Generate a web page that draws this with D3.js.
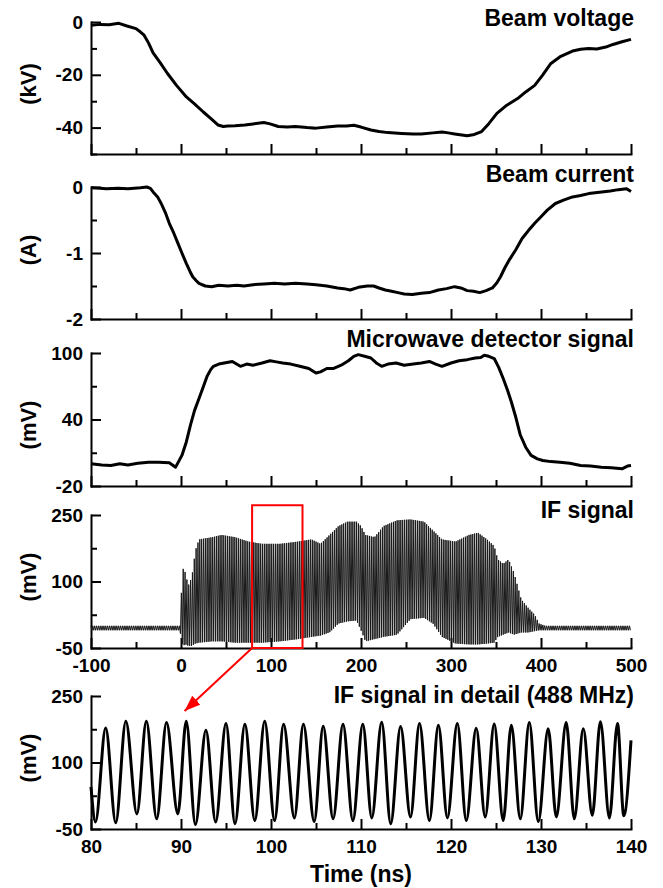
<!DOCTYPE html>
<html>
<head>
<meta charset="utf-8">
<script src="https://cdn.jsdelivr.net/npm/d3@7"></script>
<style>
body { margin: 0; background: #fff; }
text { font-family: "Liberation Sans", Arial, sans-serif; font-weight: bold; fill: #000; }
.axis .tick text { font-size: 19px; }
.axis path, .axis line { stroke: #000; stroke-width: 2; }
.axis path { stroke-linecap: square; }
</style>
</head>
<body>
<svg id="chart" width="663" height="888"></svg>
<script>
// ---- data ----
const voltT = [-100, -90, -80, -69, -60, -50, -45, -41, -36, -31, -23, -15, -5, 6, 15, 24.5, 33, 41, 47, 52, 60, 71, 80, 92, 99, 108, 118, 127, 140, 150, 162, 174, 184, 192, 200, 211, 220, 230, 245, 258, 267, 280, 290, 297, 304, 312, 318, 326, 334, 342, 351, 362, 374, 383, 393, 402, 411, 422, 435, 444, 453, 462, 472, 480, 490, 500];
const voltV = [-1.2, -0.9, -1.0, -0.5, -1.5, -2.5, -3.8, -5, -8, -11.7, -15.5, -19.5, -24, -28.4, -31, -34, -36.5, -39, -39.6, -39.4, -39.3, -39, -38.6, -38.1, -38.6, -39.6, -39.8, -39.6, -40, -40.2, -39.8, -39.4, -39.4, -39.1, -39.8, -40.9, -41.5, -41.9, -42.2, -42.4, -42.4, -42.0, -41.7, -42.0, -42.4, -42.8, -43.1, -42.6, -41.5, -38.5, -34.6, -31.5, -29, -26.5, -24, -20, -15.7, -13, -11, -10.3, -10, -10.2, -9.5, -8.5, -7.5, -6.6];

const curT = [-100, -90, -83, -70, -59, -45, -38, -34, -31, -26, -22, -17, -13, -8, -3.5, 1, 6, 10, 13, 17, 20, 27, 34, 42, 52, 62, 70, 80, 92, 104, 115, 127, 140, 150, 162, 174, 181, 188, 197, 207, 214, 220, 227, 234, 241, 248, 257, 267, 276, 286, 295, 304, 311, 318, 325, 332, 339, 346, 351, 355, 360, 365, 372, 379, 386, 393, 400, 407, 416, 425, 435, 444, 453, 465, 477, 486, 495, 500];
const curA = [-0.01, -0.02, -0.025, -0.02, -0.025, -0.01, 0, -0.02, -0.075, -0.15, -0.25, -0.4, -0.55, -0.7, -0.85, -1.0, -1.16, -1.28, -1.36, -1.42, -1.46, -1.5, -1.51, -1.49, -1.5, -1.49, -1.5, -1.48, -1.47, -1.46, -1.47, -1.46, -1.47, -1.48, -1.5, -1.53, -1.54, -1.56, -1.52, -1.5, -1.5, -1.53, -1.56, -1.58, -1.6, -1.62, -1.63, -1.61, -1.6, -1.56, -1.54, -1.51, -1.53, -1.57, -1.58, -1.6, -1.57, -1.53, -1.45, -1.36, -1.22, -1.1, -0.95, -0.78, -0.66, -0.55, -0.45, -0.35, -0.25, -0.2, -0.15, -0.13, -0.1, -0.08, -0.06, -0.04, -0.025, -0.07];

const mwT = [-100, -88, -78, -68, -59, -48, -36, -25, -13, -6, 1, 6, 10.5, 15, 20, 25, 29, 33, 36, 42, 48, 57, 66, 73, 80, 90, 99, 106, 113, 122, 132, 142, 150, 155, 162, 169, 178, 186, 192, 197, 204, 211, 217, 223, 230, 239, 248, 258, 267, 276, 283, 290, 300, 309, 318, 327, 333, 337, 342, 348, 353, 358, 363, 367, 372, 377, 383, 389, 396, 402, 411, 421, 432, 444, 455, 467, 478, 490, 496, 500];
const mwV = [0, -1, -1.5, 0, -1, 0.5, 1.5, 1.5, 1, -3, 7.6, 20, 35, 48, 59, 70, 79, 85, 88, 90, 91, 92.4, 88, 90, 89, 91, 93, 92, 91, 90, 88, 86, 82, 83, 86, 86, 89, 93, 97, 98.5, 97, 95.5, 91, 88, 90, 91, 89, 90, 91, 92.4, 90, 88, 91, 93, 94, 95.5, 96, 98, 97, 95, 87, 77, 66, 56, 42, 26, 15, 7.6, 4.5, 3, 2, 1.5, 0.5, -1.5, -2, -3, -3.5, -4.5, -2, -1.5];

// IF signal: envelope of the 488 MHz oscillation
const ifT = [-100, -1, 0, 2, 5, 8, 12, 16, 20, 35, 45, 60, 75, 90, 110, 130, 145, 155, 165, 175, 185, 195, 200, 205, 215, 225, 240, 255, 270, 280, 290, 305, 320, 330, 340, 348, 352, 358, 364, 370, 378, 386, 393, 398, 405, 500];
const ifUpper = [0, 0, 60, 130, 120, 90, 110, 170, 195, 200, 205, 200, 190, 185, 185, 190, 195, 185, 205, 225, 235, 235, 225, 205, 200, 225, 238, 240, 235, 215, 195, 190, 205, 210, 195, 180, 150, 140, 150, 120, 60, 40, 25, 5, 0, 0];
const ifLower = [-10, -10, -30, -45, -42, -45, -45, -40, -38, -35, -35, -38, -38, -38, -35, -30, -25, -22, -15, 5, 10, 12, -10, -35, -30, -25, -20, 15, 18, 5, -25, -40, -42, -42, -40, -38, -25, -20, -15, -20, -15, -15, -12, -10, -10, -10];
const ifFreqGHz = 0.488;

// IF signal in detail: peaks and troughs
const detT = [80, 80.5, 81.63, 82.75, 83.87, 85.1, 86.15, 87.3, 88.39, 89.65, 90.58, 91.6, 92.77, 93.85, 95.0, 96.0, 97.1, 98.2, 99.3, 100.4, 101.4, 102.6, 103.6, 104.8, 105.8, 106.9, 108.0, 109.1, 110.2, 111.2, 112.3, 113.3, 114.4, 115.5, 116.5, 117.6, 118.6, 119.6, 120.7, 121.7, 122.8, 123.8, 124.8, 125.8, 126.7, 127.7, 128.7, 129.7, 130.8, 131.7, 132.8, 133.7, 134.7, 135.7, 136.6, 137.6, 138.5, 139.2, 140];
const detV = [45, -34, 178, -36, 193, -16, 193, -27, 190, -16, 193, -40, 173, -34, 188, -38, 186, -31, 193, -31, 186, -25, 186, -33, 182, -27, 186, -31, 186, -25, 191, -38, 181, -23, 188, -31, 184, -25, 188, -31, 177, -23, 187, -31, 184, -27, 190, -33, 176, -23, 190, -27, 176, -19, 192, -25, 188, -20, 150];

const timeMajor = [-100, 0, 100, 200, 300, 400, 500];
const timeMinor = [-50, 50, 150, 250, 350, 450];
const detMajor = [80, 90, 100, 110, 120, 130, 140];
const detMinor = [85, 95, 105, 115, 125, 135];

const svg = d3.select("#chart");
const X0 = 91, X1 = 631;

const panels = [
  { title: "Beam voltage", unit: "(kV)", top: 22, bottom: 154, domain: [-50, 0], yMajor: [0, -20, -40], yMinor: [-10, -30, -50], titleY: 26, unitY: 84, xd: [-100, 500], xMajor: timeMajor, xMinor: timeMinor, labels: false },
  { title: "Beam current", unit: "(A)", top: 187, bottom: 319, domain: [-2, 0], yMajor: [0, -1, -2], yMinor: [-0.5, -1.5], titleY: 182, unitY: 250, xd: [-100, 500], xMajor: timeMajor, xMinor: timeMinor, labels: false },
  { title: "Microwave detector signal", unit: "(mV)", top: 353, bottom: 486, domain: [-20, 100], yMajor: [100, 40, -20], yMinor: [70, 10], titleY: 347, unitY: 425, xd: [-100, 500], xMajor: timeMajor, xMinor: timeMinor, labels: false },
  { title: "IF signal", unit: "(mV)", top: 515, bottom: 648, domain: [-50, 250], yMajor: [250, 100, -50], yMinor: [175, 25], titleY: 518, unitY: 577, xd: [-100, 500], xMajor: timeMajor, xMinor: timeMinor, labels: true },
  { title: "IF signal in detail (488 MHz)", unit: "(mV)", top: 696, bottom: 829, domain: [-50, 250], yMajor: [250, 100, -50], yMinor: [175, 25], titleY: 703, unitY: 758, xd: [80, 140], xMajor: detMajor, xMinor: detMinor, labels: true }
];

panels.forEach(p => {
  p.x = d3.scaleLinear().domain(p.xd).range([X0, X1]);
  p.y = d3.scaleLinear().domain(p.domain).range([p.bottom, p.top]);

  svg.append("g").attr("class", "axis").attr("transform", `translate(${X0},0)`)
    .call(d3.axisLeft(p.y).tickValues(p.yMajor).tickSize(-10).tickSizeOuter(0).tickPadding(8).tickFormat(d => String(d)));
  svg.append("g").attr("class", "axis").attr("transform", `translate(${X0},0)`)
    .call(d3.axisLeft(p.y).tickValues(p.yMinor).tickSize(-6).tickSizeOuter(0).tickFormat(""))
    .call(g => g.select(".domain").remove());

  svg.append("g").attr("class", "axis").attr("transform", `translate(0,${p.bottom})`)
    .call(d3.axisBottom(p.x).tickValues(p.xMajor).tickSize(-10).tickSizeOuter(0).tickPadding(11)
      .tickFormat(p.labels ? (d => String(d)) : ""));
  svg.append("g").attr("class", "axis").attr("transform", `translate(0,${p.bottom})`)
    .call(d3.axisBottom(p.x).tickValues(p.xMinor).tickSize(-6).tickSizeOuter(0).tickFormat(""))
    .call(g => g.select(".domain").remove());

  svg.append("text").attr("x", 634).attr("y", p.titleY).attr("text-anchor", "end")
    .style("font-size", "23px").text(p.title);
  svg.append("text").attr("transform", `translate(28,${p.unitY}) rotate(-90)`)
    .attr("text-anchor", "middle").attr("dominant-baseline", "central")
    .style("font-size", "22px").text(p.unit);
});

function plotLine(p, ts, vs, width) {
  const line = d3.line().x(d => p.x(d[0])).y(d => p.y(d[1]));
  svg.append("path").datum(d3.zip(ts, vs)).attr("d", line)
    .attr("fill", "none").attr("stroke", "#000").attr("stroke-width", width)
    .attr("stroke-linejoin", "round");
}

plotLine(panels[0], voltT, voltV, 3);
plotLine(panels[1], curT, curA, 3);
plotLine(panels[2], mwT, mwV, 3);

// IF signal: oscillation swinging between the read envelopes at 488 MHz
{
  const p = panels[3];
  const up = d3.scaleLinear().domain(ifT).range(ifUpper);
  const lo = d3.scaleLinear().domain(ifT).range(ifLower);
  const half = 0.5 / ifFreqGHz;
  const pts = d3.range(-100, 500, half).map((t, i) => [t, i % 2 ? lo(t) : up(t)]);
  const line = d3.line().x(d => p.x(d[0])).y(d => p.y(d[1]));
  svg.append("path").datum(pts).attr("d", line)
    .attr("fill", "none").attr("stroke", "#1a1a1a").attr("stroke-width", 1);
}

// IF in detail
{
  const p = panels[4];
  const line = d3.line().curve(d3.curveMonotoneX).x(d => p.x(d[0])).y(d => p.y(d[1]));
  svg.append("path").datum(d3.zip(detT, detV)).attr("d", line)
    .attr("fill", "none").attr("stroke", "#000").attr("stroke-width", 3);
}

// zoom box and arrow
{
  const p = panels[3], q = panels[4];
  svg.append("defs").append("marker").attr("id", "arr")
    .attr("markerUnits", "userSpaceOnUse").attr("markerWidth", 16).attr("markerHeight", 12)
    .attr("refX", 16).attr("refY", 6).attr("orient", "auto")
    .append("path").attr("d", "M0,0L16,6L0,12Z").attr("fill", "#f00");
  svg.append("rect")
    .attr("x", p.x(79)).attr("y", p.y(272))
    .attr("width", p.x(135) - p.x(79)).attr("height", p.y(-50) - p.y(272))
    .attr("fill", "none").attr("stroke", "#f00").attr("stroke-width", 2);
  svg.append("line")
    .attr("x1", p.x(79)).attr("y1", p.y(-50))
    .attr("x2", q.x(90.4)).attr("y2", q.y(216))
    .attr("stroke", "#f00").attr("stroke-width", 2).attr("marker-end", "url(#arr)");
}

svg.append("text").attr("x", (X0 + X1) / 2).attr("y", 882).attr("text-anchor", "middle")
  .style("font-size", "23px").text("Time (ns)");
</script>
</body>
</html>
